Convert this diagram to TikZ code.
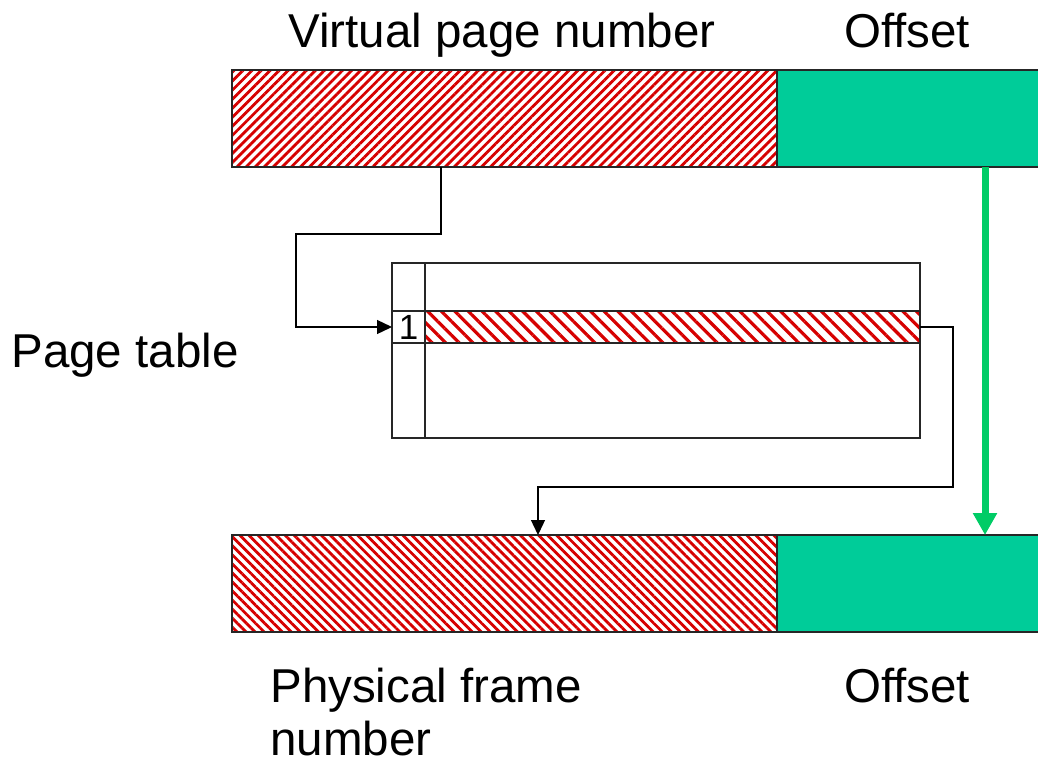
\documentclass[tikz,border=0pt]{standalone}
\usepackage{fontspec}
\setmainfont{Liberation Sans}
\usetikzlibrary{arrows.meta,patterns.meta,positioning,calc}
\definecolor{hatchred}{RGB}{214,0,0}
\definecolor{offgreen}{RGB}{0,204,153}
\definecolor{copygreen}{RGB}{0,204,102}

\begin{document}
\begin{tikzpicture}[x=0.5pt,y=-0.5pt,
	field/.style={draw=black!85,line width=0.8pt,inner sep=0pt,outer sep=0pt,minimum height=48.5pt},
	cell/.style={draw=black!85,line width=0.7pt,inner sep=0pt,outer sep=0pt},
	vpnhatch/.style={pattern={Lines[angle=45,distance=3.2pt,line width=1.4pt]},pattern color=hatchred},
	pfnhatch/.style={pattern={Lines[angle=-45,distance=3.2pt,line width=1.4pt]},pattern color=hatchred},
	rowhatch/.style={pattern={Lines[angle=-45,distance=4.8pt,line width=1.6pt]},pattern color=hatchred},
	label text/.style={inner sep=0pt,anchor=base,font=\fontsize{23.75pt}{26.5pt}\selectfont},
	link/.style={draw=black,line width=0.65pt,-{Triangle[length=7.5pt,width=7pt]}},
	copy/.style={draw=copygreen,line width=3.5pt,-{Triangle[length=11pt,width=11.5pt]}}]

	\useasboundingbox (0,0) rectangle (1038,766);

	% address fields
	\node[field,vpnhatch,minimum width=272.5pt] (vpn) at (504.5,118.5) {};
	\node[field,fill=offgreen,minimum width=133.5pt] (off) [right=0pt of vpn] {};
	\node[field,pfnhatch,minimum width=272.5pt] (pfn) [below=184pt of vpn] {};
	\node[field,fill=offgreen,minimum width=133.5pt] (poff) [right=0pt of pfn] {};

	% page table
	\node[cell,minimum width=16.5pt,minimum height=16pt,font=\fontsize{17.5pt}{20pt}\selectfont] (bit) at (408.5,327) {1};
	\node[cell,rowhatch,minimum width=247.5pt,minimum height=16pt] (entry) [right=0pt of bit] {};
	\node[cell,minimum width=16.5pt,minimum height=24pt] (vtop) [above=0pt of bit] {};
	\node[cell,minimum width=247.5pt,minimum height=24pt] (etop) [above=0pt of entry] {};
	\node[cell,minimum width=16.5pt,minimum height=47.5pt] (vbot) [below=0pt of bit] {};
	\node[cell,minimum width=247.5pt,minimum height=47.5pt] (ebot) [below=0pt of entry] {};

	% labels
	\node[label text] (vpnlabel) at (502,47) {Virtual page number};
	\node[label text] (offlabel) at (907,47) {Offset};
	\node[label text] (ptlabel) at (125,367) {Page table};
	\node[label text,align=left,anchor=north west] (pfnlabel) at (270,668) {Physical frame\\number};
	\node[label text] (pofflabel) at (907,702) {Offset};

	% connectors
	\coordinate (tap) at (441,234);
	\coordinate (loop) at (296,234);
	\coordinate (bend) at (953,487);
	\coordinate (drop) at (538,487);
	\coordinate (pass) at (985,0);
	\draw[link] (vpn.south -| tap) -- (tap) -- (loop) |- (bit.west);
	\draw[link] (entry.east) -| (bend) -- (drop) -- (pfn.north -| drop);
	\draw[copy] (off.south -| pass) -- (poff.north -| pass);

\end{tikzpicture}
\end{document}
